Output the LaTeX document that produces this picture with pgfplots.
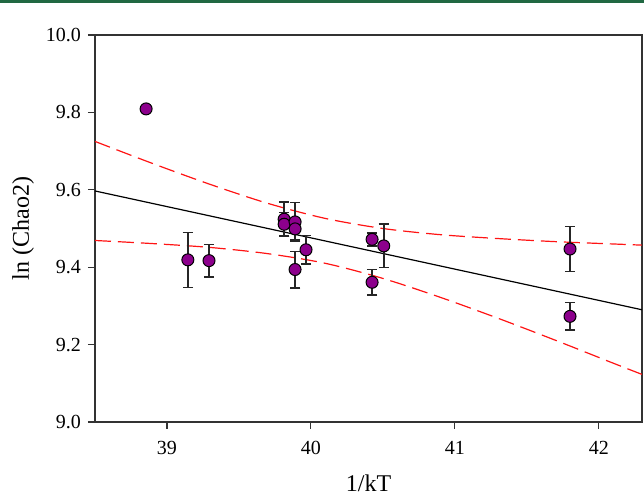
\documentclass[border=0pt]{standalone}
\usepackage{fontspec}
\setmainfont{Liberation Serif}
\usepackage{pgfplots}
\pgfplotsset{compat=1.18}
\definecolor{ptpurple}{RGB}{140,0,140}
\definecolor{hdrgreen}{RGB}{33,104,66}
\definecolor{cired}{RGB}{255,20,20}
\begin{document}
\begin{tikzpicture}
\useasboundingbox (-47.5pt,-37.5pt) rectangle (274.5pt,211pt);
\fill[hdrgreen] (-47.5pt,209.3pt) rectangle (274.5pt,211pt);
\begin{axis}[
  at={(0pt,0pt)}, anchor=south west, scale only axis,
  width=273.5pt, height=193.5pt,
  xmin=38.5, xmax=42.3, ymin=9.0, ymax=10.0,
  xtick={39,40,41,42}, ytick={9.0,9.2,9.4,9.6,9.8,10.0},
  yticklabel style={/pgf/number format/.cd, fixed, fixed zerofill, precision=1},
  /pgf/number format/assume math mode=true,
  tick align=outside, tick pos=left, major tick length=3.5pt,
  axis line style={black!80, line width=0.55pt},
  tick style={black!80, line width=0.55pt},
  ticklabel style={font=\fontsize{10}{12}\selectfont},
  xticklabel style={yshift=-2.8pt},
  xlabel={1/kT}, ylabel={ln (Chao2)},
  label style={font=\fontsize{12}{14}\selectfont},
  xlabel style={at={(axis description cs:0.5,-0.158)}, anchor=center},
  ylabel style={at={(axis description cs:-0.1316,0.5)}, anchor=center},
]
% 95% confidence band
\addplot[cired, line width=0.6pt, dash pattern=on 8pt off 3.5pt, smooth] coordinates {
(38.5,9.725) (38.9,9.668) (39.3,9.614) (39.7,9.565) (40.1,9.526) (40.5,9.500)
(40.9,9.484) (41.3,9.474) (41.7,9.466) (42.1,9.460) (42.3,9.457)
};
\addplot[cired, line width=0.6pt, dash pattern=on 8pt off 3.5pt, smooth] coordinates {
(38.5,9.469) (38.9,9.461) (39.3,9.451) (39.7,9.435) (40.1,9.410) (40.5,9.371)
(40.9,9.322) (41.3,9.268) (41.7,9.211) (42.1,9.152) (42.3,9.123)
};
% regression line
\addplot[black, line width=0.6pt] coordinates {(38.5,9.597) (42.3,9.290)};
% points with error bars
\addplot[only marks, mark=*, mark size=3pt,
  mark options={fill=ptpurple, draw=black, line width=0.5pt},
  error bars/.cd, y dir=both, y explicit,
  error bar style={black!85, line width=0.8pt},
  error mark options={black!85, line width=0.8pt, mark size=2.6pt, rotate=90}]
coordinates {
(39.145,9.419) +- (0,0.071)
(39.292,9.417) +- (0,0.042)
(39.814,9.524) +- (0,0.045)
(39.814,9.511) +- (0,0.030)
(39.890,9.517) +- (0,0.050)
(39.890,9.499) +- (0,0.027)
(39.966,9.445) +- (0,0.037)
(39.890,9.394) +- (0,0.047)
(40.425,9.472) +- (0,0.017)
(40.506,9.455) +- (0,0.056)
(40.425,9.361) +- (0,0.033)
(41.800,9.447) +- (0,0.058)
(41.800,9.273) +- (0,0.036)
};
% outlier without error bar
\addplot[only marks, mark=*, mark size=3pt,
  mark options={fill=ptpurple, draw=black, line width=0.5pt}]
coordinates {(38.855,9.809)};
\end{axis}
\end{tikzpicture}
\end{document}
